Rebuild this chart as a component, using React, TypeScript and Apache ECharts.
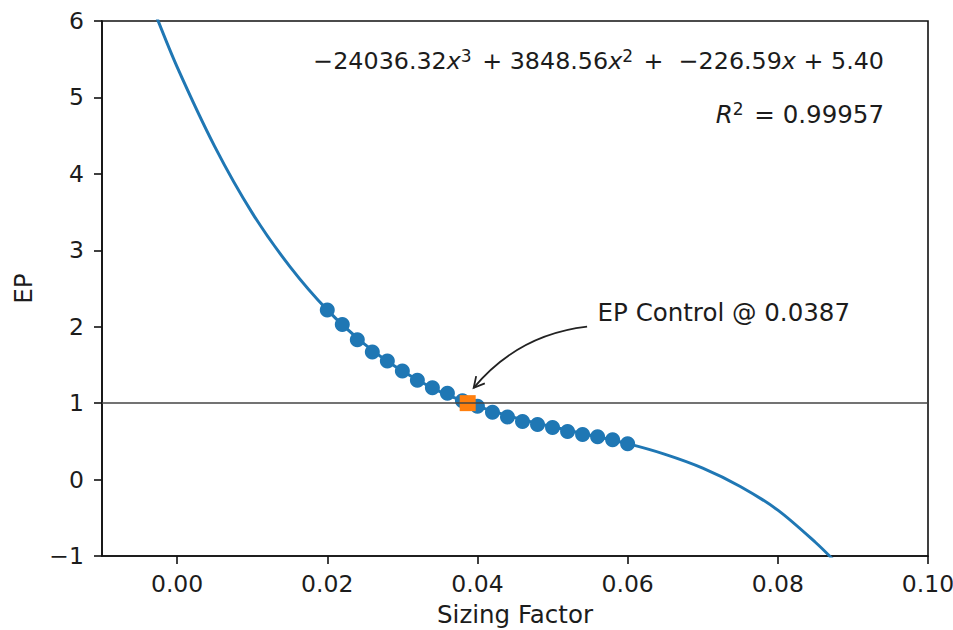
import React, { useEffect, useRef } from 'react';
import * as echarts from 'echarts';

// ---- data ----
const xTickValues = [0, 0.02, 0.04, 0.06, 0.08, 0.1];

const curveX = [-0.003, 0, 0.005, 0.01, 0.015, 0.02, 0.025, 0.03, 0.035, 0.04, 0.045, 0.05, 0.055, 0.06, 0.065, 0.07, 0.075, 0.08, 0.085, 0.0875];
const curveY = [6.12, 5.4, 4.36, 3.49, 2.79, 2.22, 1.77, 1.42, 1.15, 0.96, 0.81, 0.69, 0.58, 0.47, 0.33, 0.15, -0.09, -0.4, -0.82, -1.06];

// measured samples (blue dots)
const sampleX = [0.02, 0.022, 0.024, 0.026, 0.028, 0.03, 0.032, 0.034, 0.036, 0.038, 0.04, 0.042, 0.044, 0.046, 0.048, 0.05, 0.052, 0.054, 0.056, 0.058, 0.06];
const sampleY = [2.22, 2.03, 1.83, 1.67, 1.55, 1.42, 1.3, 1.2, 1.13, 1.03, 0.96, 0.88, 0.82, 0.76, 0.72, 0.68, 0.63, 0.59, 0.56, 0.52, 0.47];

const controlPoint = [0.0387, 1.0];
const referenceLevel = 1;

const equationParts = ['−24036.32', '3', ' + 3848.56', '2', ' +  −226.59', ' + 5.40'];
const r2Label = ' = 0.99957';
const annotationLabel = 'EP Control @ 0.0387';
const annotationTextAt = [0.056, 2.18];
const annotationArrowFrom = [0.0546, 2.0];
const annotationArrowTo = [0.0395, 1.2];

const FONT = 'DejaVu Sans';
const TXT = '#1c1c1c';
const BLUE = '#1f77b4';
const ORANGE = '#ff7f0e';

export default function App() {
  const ref = useRef<HTMLDivElement>(null);

  useEffect(() => {
    const chart = echarts.init(ref.current!, null, { renderer: 'svg' });
    const fs = 23.5;
    const fsName = 24.5;
    const fsNote = 24.5;
    const fsEq = 23.8;
    const option: any = {
      animation: false,
      backgroundColor: '#fff',
      grid: {
        left: 102,
        right: 25,
        top: 21,
        bottom: 74,
        outerBoundsMode: 'none',
        containLabel: false,
        show: true,
        borderColor: '#111',
        borderWidth: 1.6,
        backgroundColor: 'transparent',
      },
      xAxis: {
        type: 'value',
        min: -0.01,
        max: 0.1,
        name: 'Sizing Factor',
        nameLocation: 'middle',
        nameGap: 45,
        nameTextStyle: { fontSize: fsName, color: TXT, fontFamily: FONT, lineHeight: 27 },
        splitLine: { show: false },
        axisLine: { show: true, onZero: false, lineStyle: { color: '#111', width: 1.6 } },
        axisTick: { show: true, customValues: xTickValues, length: 8, lineStyle: { color: '#111', width: 1.6 } },
        axisLabel: {
          customValues: xTickValues,
          formatter: (v: number) => v.toFixed(2),
          fontSize: fs,
          color: TXT,
          fontFamily: FONT,
          margin: 16,
        },
      },
      yAxis: {
        type: 'value',
        min: -1,
        max: 6,
        interval: 1,
        name: 'EP',
        nameLocation: 'middle',
        nameGap: 66,
        nameRotate: 90,
        nameTextStyle: { fontSize: fsName, color: TXT, fontFamily: FONT },
        splitLine: { show: false },
        axisLine: { show: true, onZero: false, lineStyle: { color: '#111', width: 1.6 } },
        axisTick: { show: true, length: 8, lineStyle: { color: '#111', width: 1.6 } },
        axisLabel: {
          formatter: (v: number) => String(v).replace('-', '−'),
          fontSize: fs,
          color: TXT,
          fontFamily: FONT,
          margin: 18,
        },
      },
      series: [
        {
          type: 'line',
          data: curveX.map((x, i) => [x, curveY[i]]),
          showSymbol: false,
          smooth: 0.3,
          clip: true,
          lineStyle: { color: BLUE, width: 3 },
          z: 1,
          silent: true,
        },
        {
          type: 'scatter',
          data: sampleX.map((x, i) => [x, sampleY[i]]),
          symbol: 'circle',
          symbolSize: 15,
          itemStyle: { color: BLUE, opacity: 1 },
          z: 2,
        },
        {
          type: 'scatter',
          data: [controlPoint],
          symbol: 'rect',
          symbolSize: 16,
          itemStyle: { color: ORANGE, opacity: 1 },
          z: 3,
        },
        {
          type: 'line',
          data: [],
          z: 4,
          markLine: {
            silent: true,
            symbol: ['none', 'none'],
            label: { show: false },
            lineStyle: { color: '#444', width: 1.6, type: 'solid' },
            data: [{ yAxis: referenceLevel }],
          },
        },
      ],
    };
    chart.setOption(option);

    const p0 = chart.convertToPixel({ gridIndex: 0 }, annotationArrowFrom) as number[];
    const p2 = chart.convertToPixel({ gridIndex: 0 }, annotationArrowTo) as number[];
    const tp = chart.convertToPixel({ gridIndex: 0 }, annotationTextAt) as number[];
    const mx = (p0[0] + p2[0]) / 2;
    const my = (p0[1] + p2[1]) / 2;
    const rad = 0.2;
    const cp = [mx + rad * (p0[1] - p2[1]), my + rad * (p2[0] - p0[0])];
    let dx = p2[0] - cp[0];
    let dy = p2[1] - cp[1];
    const len = Math.hypot(dx, dy);
    dx /= len;
    dy /= len;
    const hl = 12;
    const ang = (28 * Math.PI) / 180;
    const rot = (a: number) => [dx * Math.cos(a) - dy * Math.sin(a), dx * Math.sin(a) + dy * Math.cos(a)];
    const r1 = rot(ang);
    const r2 = rot(-ang);
    const head = [
      [p2[0] - hl * r1[0], p2[1] - hl * r1[1]],
      [p2[0], p2[1]],
      [p2[0] - hl * r2[0], p2[1] - hl * r2[1]],
    ];

    const richFor = (size: number) => ({
      n: { fontSize: size, fontFamily: FONT, fill: TXT },
      i: { fontSize: size, fontFamily: FONT, fontStyle: 'italic', fill: TXT },
      s: { fontSize: Math.round(size * 0.7), fontFamily: FONT, fill: TXT, verticalAlign: 'top', padding: [0, 3, 10, 0] },
    });

    chart.setOption({
      graphic: [
        {
          type: 'bezierCurve',
          shape: { x1: p0[0], y1: p0[1], x2: p2[0], y2: p2[1], cpx1: cp[0], cpy1: cp[1] },
          style: { stroke: '#222', lineWidth: 1.8, fill: null },
          z: 10,
        },
        {
          type: 'polyline',
          shape: { points: head },
          style: { stroke: '#222', lineWidth: 1.8, fill: null },
          z: 10,
        },
        {
          type: 'text',
          x: tp[0],
          y: tp[1],
          style: {
            text: annotationLabel,
            fontSize: fsNote,
            fontFamily: FONT,
            fill: TXT,
            align: 'left',
            verticalAlign: 'middle',
          },
          z: 10,
        },
        {
          type: 'text',
          x: 884,
          y: 61,
          style: {
            text:
              '{n|' + equationParts[0] + '}{i|x}{s|' + equationParts[1] + '}{n|' + equationParts[2] + '}{i|x}{s|' +
              equationParts[3] + '}{n|' + equationParts[4] + '}{i|x}{n|' + equationParts[5] + '}',
            align: 'right',
            verticalAlign: 'middle',
            fontFamily: FONT,
            fontSize: fsEq,
            fill: TXT,
            rich: richFor(fsEq),
          },
          z: 10,
        },
        {
          type: 'text',
          x: 884,
          y: 114,
          style: {
            text: '{i|R}{s|2}{n|' + r2Label + '}',
            align: 'right',
            verticalAlign: 'middle',
            fontFamily: FONT,
            fontSize: fsNote,
            fill: TXT,
            rich: richFor(fsNote),
          },
          z: 10,
        },
      ],
    });

    return () => chart.dispose();
  }, []);

  return <div ref={ref} style={{ position: 'fixed', left: 0, top: 0, width: 953, height: 630 }} />;
}
